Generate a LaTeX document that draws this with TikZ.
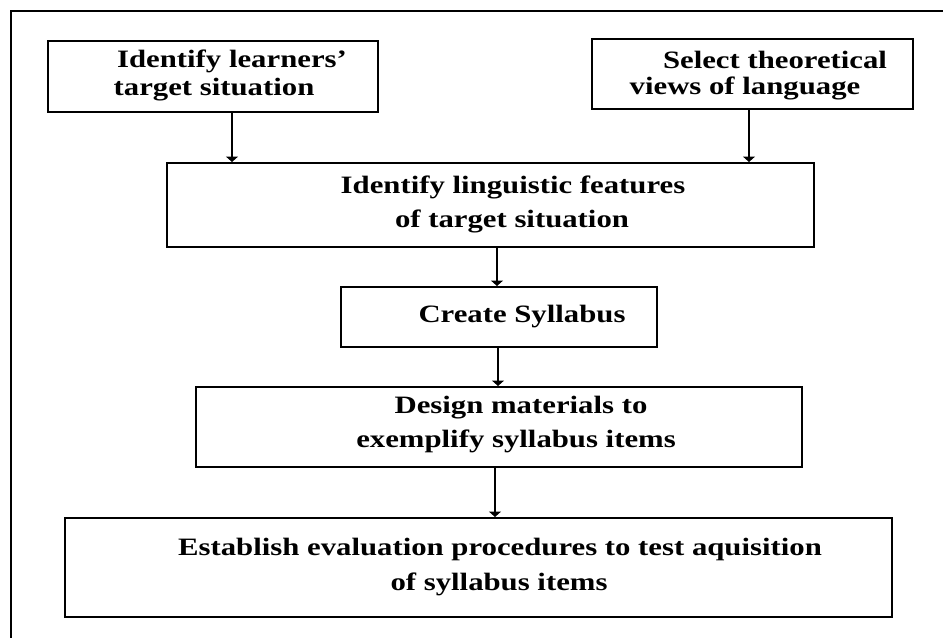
\documentclass[tikz,border=0pt]{standalone}
\usepackage{fontspec}
\setmainfont{Liberation Serif}[FakeStretch=1.23]
\usetikzlibrary{arrows.meta}
\begin{document}
\begin{tikzpicture}[x=1pt,y=-1pt,
  box/.style={draw=black, line width=2pt, inner sep=0pt, fill=none},
  txt/.style={anchor=base, inner sep=0pt, font=\fontsize{25}{30}\selectfont\bfseries},
  arr/.style={draw=black, line width=1.8pt, -{Triangle[length=5.5pt,width=12pt]}},
  frame/.style={draw=black, line width=1.5pt}]
\useasboundingbox (0,0) rectangle (943,638);
\draw[frame] (943,11) -- (11,11) -- (11,638);
% boxes
\node[box, minimum width=330pt, minimum height=71pt] (b1) at (213,76.5) {};
\node[box, minimum width=321pt, minimum height=70pt] (b2) at (752.5,74) {};
\node[box, minimum width=647pt, minimum height=84pt] (b3) at (490.5,205) {};
\node[box, minimum width=316pt, minimum height=60pt] (b4) at (499,317) {};
\node[box, minimum width=606pt, minimum height=80pt] (b5) at (499,427) {};
\node[box, minimum width=827pt, minimum height=99pt] (b6) at (478.5,567.5) {};
% texts
\node[txt] (t1a) at (232,67) {Identify learners’};
\node[txt] (t1b) at (214,95) {target situation};
\node[txt] (t2a) at (775,68) {Select theoretical};
\node[txt] (t2b) at (745,94) {views of language};
\node[txt] (t3a) at (513,193) {Identify linguistic features};
\node[txt] (t3b) at (512,227) {of target situation};
\node[txt] (t4) at (522,322) {Create Syllabus};
\node[txt] (t5a) at (521,413) {Design materials to};
\node[txt] (t5b) at (516,447) {exemplify syllabus items};
\node[txt] (t6a) at (500,555) {Establish evaluation procedures to test aquisition};
\node[txt] (t6b) at (499,590) {of syllabus items};
% connector columns
\coordinate (c1) at (232,0);
\coordinate (c2) at (749,0);
\coordinate (c3) at (497,0);
\coordinate (c4) at (498,0);
\coordinate (c5) at (495,0);
\draw[arr] (b1.south -| c1) -- (b3.north -| c1);
\draw[arr] (b2.south -| c2) -- (b3.north -| c2);
\draw[arr] (b3.south -| c3) -- (b4.north -| c3);
\draw[arr] (b4.south -| c4) -- (b5.north -| c4);
\draw[arr] (b5.south -| c5) -- (b6.north -| c5);
\end{tikzpicture}
\end{document}
